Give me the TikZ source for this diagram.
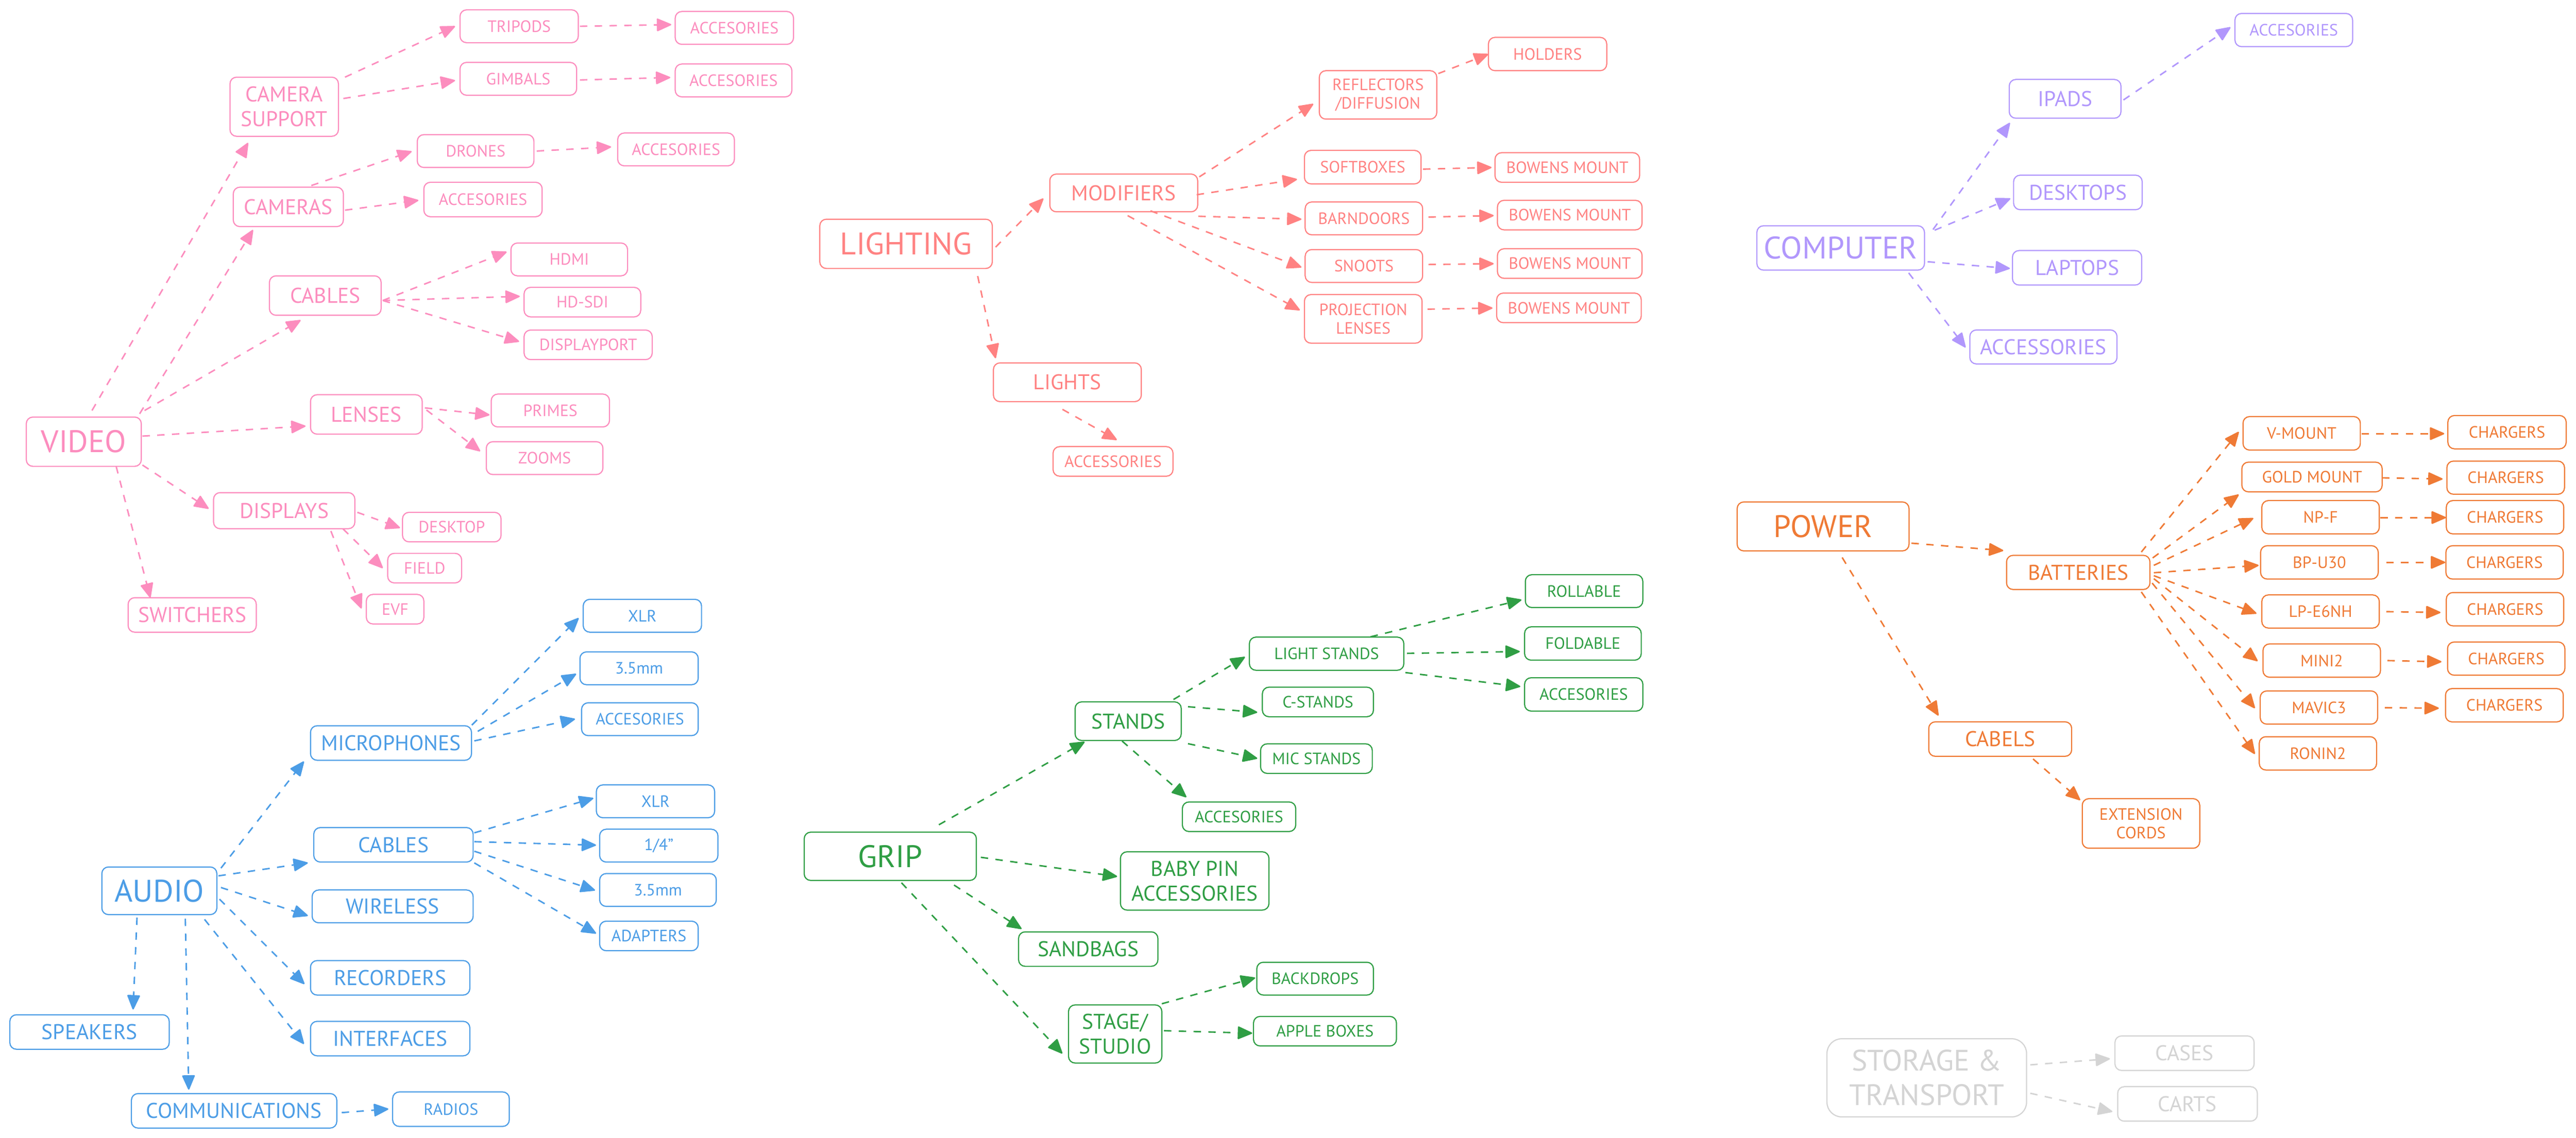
\documentclass[tikz,border=0pt]{standalone}
\usepackage{fontspec}
\setmainfont{PT Sans}
\usetikzlibrary{arrows.meta}
\definecolor{cpink}{HTML}{FC8DBE}
\definecolor{cblue}{HTML}{4C9DE6}
\definecolor{csalmon}{HTML}{FF8282}
\definecolor{cgreen}{HTML}{2F9E44}
\definecolor{cviolet}{HTML}{B197FC}
\definecolor{corange}{HTML}{EF7A35}
\definecolor{cgray}{HTML}{D4D4D4}
\tikzset{
  box/.style={draw, rounded corners=4pt, line width=0.7pt, inner sep=0pt, align=center},
  big/.style={font=\fontsize{19}{22}\selectfont},
  med/.style={font=\fontsize{13}{15}\selectfont},
  sm/.style={font=\fontsize{10}{11.3}\selectfont},
  ar/.style={line width=0.9pt, dash pattern=on 4.5pt off 4.5pt, -{Triangle[length=9.5pt,width=8pt,round]}},
}
\newcommand\bx[6][]{\node[box,#1,minimum width=#4pt,minimum height=#5pt] (#2) at (#3) {#6};}
\newcommand\cn[4]{\draw[ar] ([shift={(#2)}]#1.center) -- ([shift={(#4)}]#3.center);}
\begin{document}
\begin{tikzpicture}[x=1pt,y=-1pt]
\useasboundingbox (0,0) rectangle (1568,692.92);
\fill[white] (0,0) rectangle (1568,692.92);

% ---------------- VIDEO ----------------
\begin{scope}[color=cpink]
\bx[big]{video}{51,269}{70}{30}{VIDEO}
\bx[med]{cs}{173,65}{66}{36}{CAMERA\\SUPPORT}
\bx[sm]{tri}{316,16}{72}{20}{TRIPODS}
\bx[sm]{triacc}{447,17}{72}{20}{ACCESORIES}
\bx[sm]{gim}{315.5,48}{71}{20}{GIMBALS}
\bx[sm]{gimacc}{446.5,49}{71}{20}{ACCESORIES}
\bx[sm]{dro}{289.5,92}{71}{20}{DRONES}
\bx[sm]{droacc}{411.5,91}{71}{20}{ACCESORIES}
\bx[med]{cam}{175.5,126}{67}{24}{CAMERAS}
\bx[sm]{camacc}{294,121.5}{72}{21}{ACCESORIES}
\bx[med]{vcab}{198,180}{68}{24}{CABLES}
\bx[sm]{hdmi}{346.5,158}{71}{20}{HDMI}
\bx[sm]{hdsdi}{354.5,184}{71}{18}{HD-SDI}
\bx[sm]{dp}{358,210}{78}{18}{DISPLAYPORT}
\bx[med]{len}{223,252.4}{68}{24}{LENSES}
\bx[sm]{pri}{335,250}{72}{20}{PRIMES}
\bx[sm]{zoo}{331.5,279}{71}{20}{ZOOMS}
\bx[med]{dis}{173,311}{86}{22}{DISPLAYS}
\bx[sm]{desk}{275,321}{60}{18}{DESKTOP}
\bx[sm]{fie}{258.5,346}{45}{18}{FIELD}
\bx[sm]{evf}{240.5,371}{35}{18}{EVF}
\bx[med]{sw}{117,374.5}{78}{21}{SWITCHERS}
\cn{video}{5,-19}{cs}{-22,22}
\cn{video}{34,-17}{cam}{-21.5,14}
\cn{video}{37,-19}{vcab}{-15,15}
\cn{video}{35.7,-3.4}{len}{-37,7.1}
\cn{video}{35.7,14.2}{dis}{-46,-1.2}
\cn{video}{19.7,15}{sw}{-25.5,-10.5}
\cn{cs}{37,-18}{tri}{-39,0}
\cn{cs}{36,-5}{gim}{-38.5,1}
\cn{tri}{37,0}{triacc}{-38.4,-2}
\cn{gim}{37.5,0.7}{gimacc}{-38.5,-1.8}
\cn{cam}{14,-13}{dro}{-38.9,0.2}
\cn{dro}{37.2,0}{droacc}{-39.5,-1.5}
\cn{cam}{34.5,2}{camacc}{-39.3,0.5}
\cn{vcab}{35,3}{hdmi}{-38.1,-4.6}
\cn{vcab}{35,3}{hdsdi}{-38.1,-3.5}
\cn{vcab}{35,3}{dp}{-42,-2}
\cn{len}{35.6,-4}{pri}{-37,2.7}
\cn{len}{36.6,-2.7}{zoo}{-39.2,-4.2}
\cn{dis}{44.5,1}{desk}{-31.5,0.5}
\cn{dis}{35.8,11.1}{fie}{-25.5,0}
\cn{dis}{28.4,12.4}{evf}{-20.5,-0.4}
\end{scope}

% ---------------- AUDIO ----------------
\begin{scope}[color=cblue]
\bx[big]{audio}{97,542.5}{70}{29}{AUDIO}
\bx[med]{mic}{238,452.5}{98}{21}{MICROPHONES}
\bx[sm]{mxlr}{391,375}{72}{20}{XLR}
\bx[sm]{m35}{389,407}{72}{20}{3.5mm}
\bx[sm]{macc}{389.5,438}{71}{20}{ACCESORIES}
\bx[med]{acab}{239.5,514.5}{97}{21}{CABLES}
\bx[sm]{cxlr}{399,488}{72}{20}{XLR}
\bx[sm]{c14}{401,515}{72}{20}{1/4"}
\bx[sm]{c35}{400.5,542}{71}{20}{3.5mm}
\bx[sm]{adap}{395,570}{60}{18}{ADAPTERS}
\bx[med]{wir}{239,552}{98}{20}{WIRELESS}
\bx[med]{rec}{237.5,595.5}{97}{21}{RECORDERS}
\bx[med]{intf}{237.5,632.5}{97}{21}{INTERFACES}
\bx[med]{spk}{54.5,628.5}{97}{21}{SPEAKERS}
\bx[med]{comm}{142.5,676.5}{125}{21}{COMMUNICATIONS}
\bx[sm]{rad}{274.5,675.5}{71}{21}{RADIOS}
\cn{audio}{37.5,-13.8}{mic}{-53,11.2}
\cn{audio}{36,-9.1}{acab}{-52.1,11}
\cn{audio}{37.5,-2}{wir}{-51.6,5.7}
\cn{audio}{36.6,5.1}{rec}{-52.2,3.8}
\cn{audio}{27.5,17.4}{intf}{-52.5,3.3}
\cn{audio}{-13.6,16.3}{spk}{26.5,-13.7}
\cn{audio}{15.8,17}{comm}{-27.6,-12.9}
\cn{comm}{65.5,1.1}{rad}{-38.1,-0.1}
\cn{mic}{49.2,-10.9}{mxlr}{-38.8,1.4}
\cn{mic}{52.8,-7.1}{m35}{-38.3,3.4}
\cn{mic}{50.7,-1.3}{macc}{-39.5,-0.1}
\cn{acab}{49.2,-7.3}{cxlr}{-37.8,-1.9}
\cn{acab}{49.2,-1.9}{c14}{-38.2,-0.3}
\cn{acab}{49.2,3.9}{c35}{-38.3,0.2}
\cn{acab}{49.2,11}{adap}{-32.2,-1.5}
\end{scope}

% ---------------- LIGHTING ----------------
\begin{scope}[color=csalmon]
\bx[big]{light}{551.5,148.5}{105}{30}{LIGHTING}
\bx[med]{mod}{684,117.5}{90}{23}{MODIFIERS}
\bx[sm]{refl}{838.8,57.8}{71.5}{29.5}{REFLECTORS\\/DIFFUSION}
\bx[sm]{hold}{942,32.9}{72}{20.3}{HOLDERS}
\bx[sm]{soft}{829.5,101.8}{71}{20.4}{SOFTBOXES}
\bx[sm]{bw1}{954,102}{88}{18}{BOWENS MOUNT}
\bx[sm]{barn}{830.2,133}{71.5}{20}{BARNDOORS}
\bx[sm]{bw2}{955.5,131}{88}{18}{BOWENS MOUNT}
\bx[sm]{snoot}{830.2,162}{71.5}{20}{SNOOTS}
\bx[sm]{bw3}{955.5,160.5}{88}{18}{BOWENS MOUNT}
\bx[sm]{proj}{829.8,194.2}{71.6}{29.6}{PROJECTION\\LENSES}
\bx[sm]{bw4}{955,187.5}{88}{18}{BOWENS MOUNT}
\bx[med]{lights}{649.7,232.8}{90}{23.6}{LIGHTS}
\bx[sm]{lacc}{677.5,281}{73}{18}{ACCESSORIES}
\cn{light}{54.5,2}{mod}{-48.9,3.4}
\cn{light}{43.6,19.6}{lights}{-43.7,-14.6}
\cn{mod}{46,-9.8}{refl}{-39.4,5.5}
\cn{mod}{44.4,1.1}{soft}{-40,7.4}
\cn{mod}{45.4,14.2}{barn}{-38,0.5}
\cn{mod}{16.3,10.9}{snoot}{-38,0.8}
\cn{mod}{2.4,13.8}{proj}{-38.6,-5.3}
\cn{refl}{36.7,-13}{hold}{-36.1,0.1}
\cn{soft}{36.7,1.2}{bw1}{-46.1,0}
\cn{barn}{39.3,-0.8}{bw2}{-46.3,0.3}
\cn{snoot}{39.3,-0.9}{bw3}{-46.3,0.1}
\cn{proj}{39.1,-5.9}{bw4}{-46.5,0.1}
\cn{lights}{-3,16.5}{lacc}{2.3,-13.1}
\end{scope}

% ---------------- GRIP ----------------
\begin{scope}[color=cgreen]
\bx[big]{grip}{541.9,521.5}{104.8}{29.4}{GRIP}
\bx[med]{stands}{686.7,439.2}{64.6}{23.5}{STANDS}
\bx[sm]{ls}{807.5,398.1}{94}{20.2}{LIGHT STANDS}
\bx[sm]{roll}{964.2,360}{71.5}{20}{ROLLABLE}
\bx[sm]{fold}{963.5,391.9}{71}{20.3}{FOLDABLE}
\bx[sm]{lsacc}{964,422.9}{72}{20.3}{ACCESORIES}
\bx[sm]{cst}{802.2,427.5}{67.6}{18}{C-STANDS}
\bx[sm]{micst}{801.3,462}{68}{18}{MIC STANDS}
\bx[sm]{stacc}{754.2,497.4}{69}{18}{ACCESORIES}
\bx[med]{baby}{727.2,536.5}{90.4}{35.5}{BABY PIN\\ACCESSORIES}
\bx[med]{sand}{662.4,578}{84.8}{21}{SANDBAGS}
\bx[med]{stage}{678.8,629.7}{56.8}{35.4}{STAGE/\\STUDIO}
\bx[sm]{back}{800.5,596}{71}{20}{BACKDROPS}
\bx[sm]{apple}{806.5,628}{87}{18}{APPLE BOXES}
\cn{grip}{29.6,-19.2}{stands}{-26.5,12.6}
\cn{grip}{55.1,0.6}{baby}{-47.2,-2.7}
\cn{grip}{38.8,17.5}{sand}{-40.6,-12.3}
\cn{grip}{6.8,16.1}{stage}{-32.2,11.9}
\cn{stands}{27.6,-13.2}{ls}{-49.7,2}
\cn{stands}{36.4,-8.8}{cst}{-36.9,6.3}
\cn{stands}{36.4,13.7}{micst}{-36,-0.1}
\cn{stands}{-3.7,12.1}{stacc}{-32.1,-11.9}
\cn{ls}{26.8,-10.3}{roll}{-38.1,5.3}
\cn{ls}{48.9,-0.2}{fold}{-38.4,4.9}
\cn{ls}{47.9,11.5}{lsacc}{-38.6,-4.8}
\cn{stage}{28.4,-18.4}{back}{-36.5,-0.5}
\cn{stage}{29.7,-2}{apple}{-44.3,1.2}
\end{scope}

% ---------------- COMPUTER ----------------
\begin{scope}[color=cviolet]
\bx[big]{comp}{1120.4,151}{102}{27}{COMPUTER}
\bx[med]{ipads}{1257,60.2}{68}{23.6}{IPADS}
\bx[sm]{ipacc}{1396.2,18.3}{71.6}{20.2}{ACCESORIES}
\bx[med]{desks}{1264.8,117.2}{78.3}{21}{DESKTOPS}
\bx[med]{lap}{1264.3,163.1}{78.7}{21}{LAPTOPS}
\bx[med]{cacc}{1243.8,211.3}{89.6}{20.7}{ACCESSORIES}
\cn{comp}{56.2,-11.2}{ipads}{-33.6,14.6}
\cn{comp}{57.2,-10.8}{desks}{-41.1,3.7}
\cn{comp}{52.9,8.4}{lap}{-40.9,0.4}
\cn{comp}{41.4,15.2}{cacc}{-47.4,0.3}
\cn{ipads}{35.5,0.7}{ipacc}{-38.5,-1.7}
\end{scope}

% ---------------- POWER ----------------
\begin{scope}[color=corange]
\bx[big]{power}{1109.7,320.6}{104.6}{29.8}{POWER}
\bx[med]{batt}{1265,348.6}{87.3}{20.8}{BATTERIES}
\bx[sm]{vm}{1401,263.9}{71.4}{20.4}{V-MOUNT}
\bx[sm]{gm}{1407.3,290.5}{85.4}{18.1}{GOLD MOUNT}
\bx[sm]{npf}{1412.5,315}{71.5}{20.3}{NP-F}
\bx[sm]{bpu}{1411.8,342.5}{71.6}{20.3}{BP-U30}
\bx[sm]{lpe}{1412.5,372.4}{71.5}{20.2}{LP-E6NH}
\bx[sm]{mini}{1413.2,402.3}{71.5}{20.3}{MINI2}
\bx[sm]{mav}{1411.5,430.9}{71.5}{20.2}{MAVIC3}
\bx[sm]{ron}{1410.9,458.8}{71.4}{20.3}{RONIN2}
\bx[sm]{ch1}{1526,263.2}{72}{20.3}{CHARGERS}
\bx[sm]{ch2}{1525.2,290.9}{71.6}{20.2}{CHARGERS}
\bx[sm]{ch3}{1524.8,315}{71.5}{20.3}{CHARGERS}
\bx[sm]{ch4}{1524.5,342.5}{71.4}{20.3}{CHARGERS}
\bx[sm]{ch5}{1524.8,371}{71.5}{20.3}{CHARGERS}
\bx[sm]{ch6}{1525.5,401.1}{71.4}{20.2}{CHARGERS}
\bx[sm]{ch7}{1524.4,429.5}{71.7}{20.3}{CHARGERS}
\bx[med]{pcab}{1217.5,450.1}{87}{21}{CABELS}
\bx[sm]{ext}{1303.2,501.5}{71.5}{30.2}{EXTENSION\\CORDS}
\cn{power}{53.8,10.2}{batt}{-45.6,-13.3}
\cn{power}{11.6,18.9}{pcab}{-37.6,-14.3}
\cn{pcab}{20,12.1}{ext}{-37,-14.2}
\cn{batt}{38.4,-12.4}{vm}{-38.3,-0.9}
\cn{batt}{45.3,-8.8}{gm}{-44.6,10.7}
\cn{batt}{46,-4.3}{npf}{-40.9,0.6}
\cn{batt}{46,0.2}{bpu}{-37,1.8}
\cn{batt}{46,2}{lpe}{-39,1.2}
\cn{batt}{46,3.8}{mini}{-39,0.3}
\cn{batt}{45,6.5}{mav}{-39,0.4}
\cn{batt}{38.4,11.9}{ron}{-38.4,0.4}
\cn{vm}{36.4,0.2}{ch1}{-38.2,0.9}
\cn{gm}{42.6,0.5}{ch2}{-38.4,0.8}
\cn{npf}{36.4,0.2}{ch3}{-36,0.2}
\cn{bpu}{40.7,0}{ch4}{-36.1,0}
\cn{lpe}{40,0.1}{ch5}{-39.3,2}
\cn{mini}{40,0}{ch6}{-39.4,1.9}
\cn{mav}{40.1,0.1}{ch7}{-39.9,1.8}
\end{scope}

% ---------------- STORAGE ----------------
\begin{scope}[color=cgray]
\bx[font=\fontsize{18}{21}\selectfont,rounded corners=9pt]{stor}{1172.8,656.4}{121.5}{47.6}{STORAGE \&\\TRANSPORT}
\bx[font=\fontsize{13}{15}\selectfont]{cases}{1329.7,641.4}{84.7}{21}{CASES}
\bx[font=\fontsize{13}{15}\selectfont]{carts}{1331.5,672.3}{85}{21}{CARTS}
\cn{stor}{63,-7.9}{cases}{-45.4,3.4}
\cn{stor}{63,9.4}{carts}{-45.7,4.7}
\end{scope}
\end{tikzpicture}
\end{document}
